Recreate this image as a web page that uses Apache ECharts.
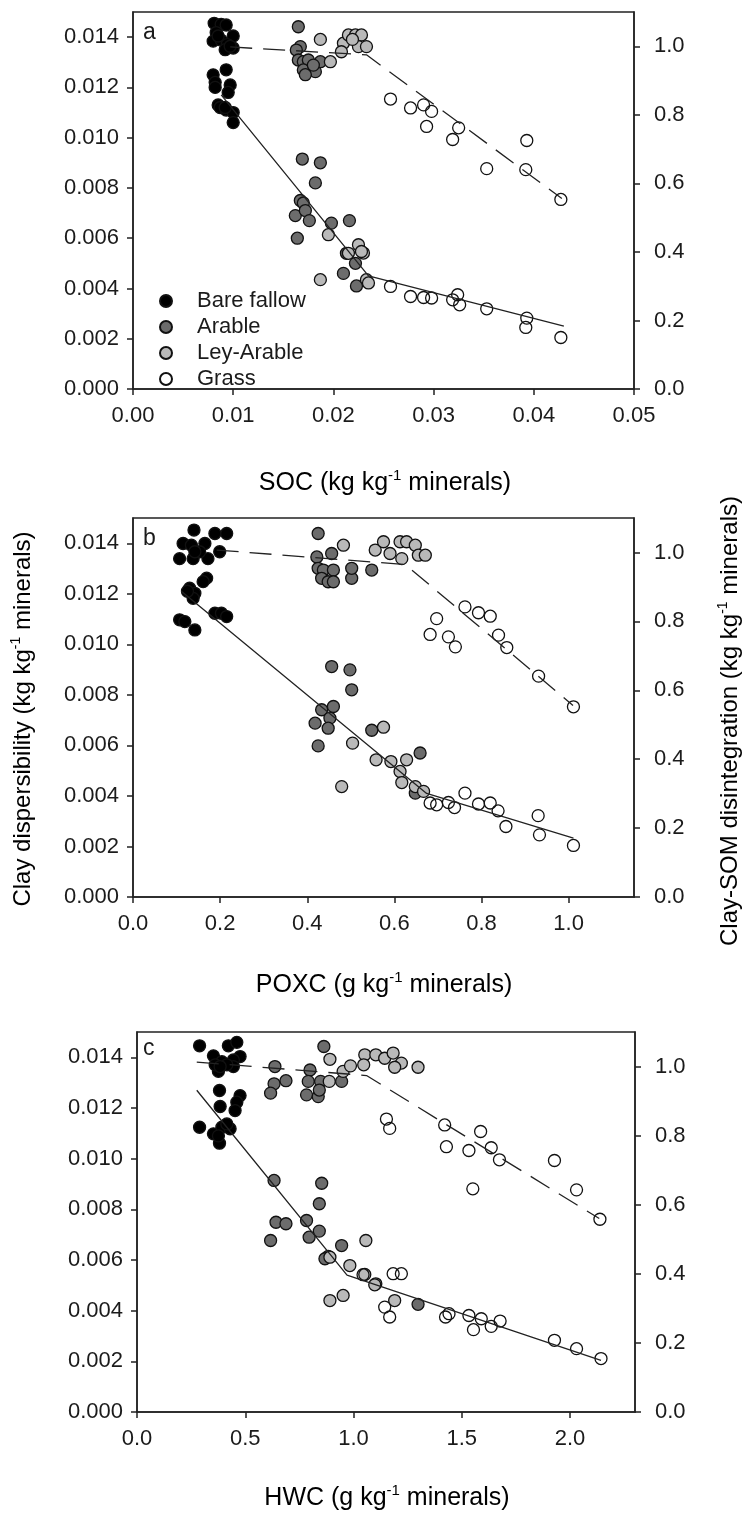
<!DOCTYPE html>
<html><head><meta charset="utf-8">
<script src="https://cdn.jsdelivr.net/npm/echarts@6/dist/echarts.min.js"></script>
<style>html,body{margin:0;padding:0;background:#fff}#c{width:745px;height:1517px}</style>
</head><body><div id="c"></div>
<script>
// ---------- categories ----------
const groups = ['Bare fallow', 'Arable', 'Ley-Arable', 'Grass'];

// ---------- tick labels ----------
const yLeftTicks = [0, 0.002, 0.004, 0.006, 0.008, 0.010, 0.012, 0.014];
const yRightTicks = [0, 0.2, 0.4, 0.6, 0.8, 1.0];
const xTicksA = [0, 0.01, 0.02, 0.03, 0.04, 0.05];
const xTicksB = [0, 0.2, 0.4, 0.6, 0.8, 1.0];
const xTicksC = [0, 0.5, 1.0, 1.5, 2.0];

// ---------- panel a: SOC ----------
const socBareDisp = [[0.0093,0.0127],[0.0080,0.0125],[0.0082,0.0122],[0.0097,0.0121],[0.0082,0.0120],[0.0095,0.0118],[0.0085,0.0113],[0.0087,0.0112],[0.0093,0.0111],[0.0100,0.0110],[0.0092,0.0112],[0.0100,0.0106]];
const socBareDisi = [[0.0081,1.067],[0.0088,1.064],[0.0093,1.062],[0.0083,1.040],[0.0100,1.030],[0.0080,1.015],[0.0088,1.018],[0.0094,1.005],[0.0100,0.995],[0.0092,0.990],[0.0097,1.000],[0.0085,1.030]];
const socArableDisp = [[0.0169,0.00915],[0.0187,0.0090],[0.0182,0.0082],[0.0167,0.0075],[0.0170,0.0074],[0.0162,0.0069],[0.0172,0.0071],[0.0176,0.0067],[0.0164,0.0060],[0.0198,0.0066],[0.0216,0.0067],[0.0210,0.0046],[0.0223,0.0041],[0.0213,0.0054],[0.0222,0.0050]];
const socArableDisi = [[0.0165,1.057],[0.0167,0.999],[0.0163,0.989],[0.0165,0.960],[0.0170,0.955],[0.0175,0.960],[0.0187,0.955],[0.0170,0.931],[0.0182,0.926],[0.0172,0.917],[0.0180,0.945]];
const socLeyDisp = [[0.0187,0.00435],[0.0195,0.00614],[0.0225,0.00574],[0.0230,0.00541],[0.0233,0.00435],[0.0215,0.0054],[0.0228,0.00547],[0.0235,0.00422]];
const socLeyDisi = [[0.0187,1.020],[0.0197,0.955],[0.0210,1.009],[0.0215,1.033],[0.0222,1.033],[0.0228,1.033],[0.0225,0.999],[0.0233,0.999],[0.0208,0.984],[0.0219,1.020]];
const socGrassDisp = [[0.0257,0.00408],[0.0277,0.00368],[0.0290,0.00364],[0.0298,0.00362],[0.0319,0.00355],[0.0324,0.00375],[0.0326,0.00335],[0.0353,0.00319],[0.0393,0.00282],[0.0392,0.00245],[0.0427,0.00205]];
const socGrassDisi = [[0.0257,0.846],[0.0277,0.820],[0.0290,0.829],[0.0298,0.810],[0.0293,0.766],[0.0325,0.762],[0.0319,0.728],[0.0393,0.725],[0.0353,0.643],[0.0392,0.640],[0.0427,0.553]];
const socDispFit = [[0.0088,0.0117],[0.0235,0.0045],[0.0430,0.0025]];
const socDisiFit = [[0.0097,0.998],[0.0233,0.975],[0.0428,0.556]];

// ---------- panel b: POXC ----------
const poxcBareDisp = [[0.169,0.01262],[0.161,0.01248],[0.130,0.01222],[0.142,0.01202],[0.138,0.01182],[0.107,0.01097],[0.119,0.0109],[0.142,0.01057],[0.188,0.01123],[0.203,0.01123],[0.215,0.0111],[0.125,0.0121]];
const poxcBareDisi = [[0.140,1.065],[0.188,1.055],[0.215,1.055],[0.115,1.026],[0.134,1.021],[0.165,1.026],[0.107,0.982],[0.138,0.982],[0.172,0.982],[0.199,1.002],[0.153,1.002],[0.142,1.002]];
const poxcArableDisp = [[0.456,0.00912],[0.498,0.00899],[0.502,0.0082],[0.460,0.00754],[0.433,0.00741],[0.452,0.00708],[0.418,0.00688],[0.448,0.00668],[0.425,0.00598],[0.548,0.0066],[0.659,0.0057],[0.648,0.00411]];
const poxcArableDisi = [[0.425,1.055],[0.422,0.987],[0.425,0.954],[0.437,0.949],[0.456,0.997],[0.460,0.949],[0.433,0.925],[0.448,0.915],[0.460,0.915],[0.502,0.925],[0.502,0.954],[0.548,0.949]];
const poxcLeyDisp = [[0.504,0.00609],[0.479,0.00437],[0.575,0.00672],[0.558,0.00543],[0.592,0.00536],[0.628,0.00543],[0.613,0.00497],[0.617,0.00453],[0.648,0.00437],[0.667,0.00418]];
const poxcLeyDisi = [[0.483,1.021],[0.556,1.007],[0.575,1.031],[0.590,0.997],[0.613,1.031],[0.628,1.031],[0.648,1.021],[0.655,0.992],[0.671,0.992],[0.617,0.982]];
const poxcGrassDisp = [[0.682,0.00372],[0.697,0.00365],[0.724,0.00374],[0.738,0.00354],[0.762,0.00411],[0.793,0.00368],[0.820,0.00372],[0.838,0.00341],[0.856,0.00279],[0.930,0.00322],[0.933,0.00246],[1.011,0.00204]];
const poxcGrassDisi = [[0.762,0.842],[0.793,0.825],[0.820,0.815],[0.697,0.808],[0.682,0.762],[0.724,0.755],[0.740,0.726],[0.839,0.760],[0.858,0.724],[0.931,0.641],[1.011,0.552]];
const poxcDispFit = [[0.111,0.0121],[0.674,0.0041],[1.011,0.00233]];
const poxcDisiFit = [[0.192,1.007],[0.625,0.965],[1.010,0.556]];

// ---------- panel c: HWC ----------
const hwcBareDisp = [[0.381,0.01269],[0.476,0.01249],[0.461,0.01223],[0.384,0.01206],[0.453,0.0119],[0.289,0.01124],[0.353,0.01098],[0.381,0.01061],[0.392,0.01124],[0.430,0.01118],[0.415,0.01137],[0.376,0.0109]];
const hwcBareDisi = [[0.289,1.060],[0.422,1.060],[0.461,1.070],[0.353,1.031],[0.392,1.014],[0.476,1.029],[0.445,1.019],[0.376,0.986],[0.445,1.000],[0.415,1.005],[0.361,1.005],[0.384,1.000]];
const hwcArableDisp = [[0.633,0.00914],[0.853,0.00903],[0.842,0.00822],[0.642,0.00749],[0.688,0.00743],[0.783,0.00756],[0.617,0.00677],[0.795,0.0069],[0.842,0.00714],[0.945,0.00657],[0.883,0.00614],[0.868,0.00605],[1.298,0.00425]];
const hwcArableDisi = [[0.863,1.058],[0.637,1.000],[0.799,0.990],[0.633,0.950],[0.688,0.959],[0.617,0.923],[0.791,0.957],[0.848,0.957],[0.783,0.918],[0.837,0.913],[0.842,0.932],[0.945,0.957]];
const hwcLeyDisp = [[1.057,0.00677],[0.891,0.00611],[0.983,0.00578],[1.052,0.00543],[1.103,0.00506],[0.891,0.0044],[0.952,0.0046],[1.098,0.00502],[1.190,0.0044]];
const hwcLeyDisi = [[0.891,1.021],[0.888,0.957],[0.952,0.986],[0.986,1.002],[1.052,1.034],[1.103,1.034],[1.144,1.024],[1.183,1.039],[1.221,1.010],[1.190,0.998],[1.298,0.998],[1.047,1.005]];
const hwcGrassDisp = [[1.044,0.00542],[1.183,0.00546],[1.221,0.00546],[1.144,0.00414],[1.167,0.00375],[1.425,0.00375],[1.441,0.00388],[1.533,0.00381],[1.554,0.00325],[1.590,0.00368],[1.636,0.00338],[1.677,0.00359],[1.928,0.00283],[2.030,0.0025],[2.143,0.00211]];
const hwcGrassDisi = [[1.152,0.848],[1.167,0.821],[1.421,0.831],[1.429,0.768],[1.533,0.757],[1.587,0.812],[1.636,0.765],[1.674,0.730],[1.551,0.646],[1.928,0.728],[2.030,0.643],[2.138,0.558]];
const hwcDispFit = [[0.276,0.0127],[0.970,0.0054],[2.143,0.00204]];
const hwcDisiFit = [[0.276,1.013],[1.060,0.974],[2.135,0.560]];

// ---------- styling ----------
const FONT = 'Liberation Sans, Arial, sans-serif';
const INK = '#1b1b1b';
const fills = {'Bare fallow': '#000000', 'Arable': '#6c6c6c', 'Ley-Arable': '#b9b9b9', 'Grass': 'rgba(255,255,255,0)'};

const panels = [
  {grid: {left: 133, top: 12, width: 501, height: 377}, xMax: 0.05, xTicks: xTicksA, xDec: 2,
   disp: [socBareDisp, socArableDisp, socLeyDisp, socGrassDisp], disi: [socBareDisi, socArableDisi, socLeyDisi, socGrassDisi],
   dispFit: socDispFit, disiFit: socDisiFit},
  {grid: {left: 133, top: 518, width: 501, height: 379}, xMax: 1.15, xTicks: xTicksB, xDec: 1,
   disp: [poxcBareDisp, poxcArableDisp, poxcLeyDisp, poxcGrassDisp], disi: [poxcBareDisi, poxcArableDisi, poxcLeyDisi, poxcGrassDisi],
   dispFit: poxcDispFit, disiFit: poxcDisiFit},
  {grid: {left: 137, top: 1032, width: 498, height: 380}, xMax: 2.3, xTicks: xTicksC, xDec: 1,
   disp: [hwcBareDisp, hwcArableDisp, hwcLeyDisp, hwcGrassDisp], disi: [hwcBareDisi, hwcArableDisi, hwcLeyDisi, hwcGrassDisi],
   dispFit: hwcDispFit, disiFit: hwcDisiFit}
];

const axisLine = {show: true, lineStyle: {color: '#222', width: 1.5}};
const axisTick = (vals) => ({show: true, inside: false, length: 6, lineStyle: {color: '#222', width: 1.5}, customValues: vals});
const labelStyle = {fontSize: 22, fontFamily: FONT, color: INK};

const grids = [], xAxes = [], yAxes = [], series = [];
panels.forEach((p, i) => {
  grids.push(Object.assign({show: true, borderColor: '#222', borderWidth: 1.5, backgroundColor: 'transparent'}, p.grid));
  xAxes.push({type: 'value', gridIndex: i, min: 0, max: p.xMax, position: 'bottom',
    axisLine, axisTick: axisTick(p.xTicks), splitLine: {show: false},
    axisLabel: Object.assign({margin: 16, customValues: p.xTicks, formatter: v => v.toFixed(p.xDec)}, labelStyle)});
  yAxes.push({type: 'value', gridIndex: i, min: 0, max: 0.015, position: 'left',
    axisLine, axisTick: axisTick(yLeftTicks), splitLine: {show: false},
    axisLabel: Object.assign({margin: 14, customValues: yLeftTicks, formatter: v => v.toFixed(3)}, labelStyle)});
  yAxes.push({type: 'value', gridIndex: i, min: 0, max: 1.1, position: 'right',
    axisLine, axisTick: axisTick(yRightTicks), splitLine: {show: false},
    axisLabel: Object.assign({margin: 20, customValues: yRightTicks, formatter: v => v.toFixed(1)}, labelStyle)});
  groups.forEach((g, k) => {
    const st = {color: fills[g], borderColor: '#111', borderWidth: 1.3, opacity: 1};
    series.push({type: 'scatter', name: g, xAxisIndex: i, yAxisIndex: 2 * i, data: p.disp[k], symbol: 'circle', symbolSize: 12, itemStyle: st, z: 2});
    series.push({type: 'scatter', name: g, xAxisIndex: i, yAxisIndex: 2 * i + 1, data: p.disi[k], symbol: 'circle', symbolSize: 12, itemStyle: st, z: 2});
  });
  series.push({type: 'line', name: 'fit-disp', xAxisIndex: i, yAxisIndex: 2 * i, data: p.dispFit, symbol: 'none', z: 4,
    lineStyle: {color: '#222', width: 1.3}});
  series.push({type: 'line', name: 'fit-disi', xAxisIndex: i, yAxisIndex: 2 * i + 1, data: p.disiFit, symbol: 'none', z: 4,
    lineStyle: {color: '#222', width: 1.3, type: [22, 11]}});
});

const richX = {
  a: {fontSize: 25, fontFamily: FONT, color: INK, lineHeight: 29},
  s: {fontSize: 15, fontFamily: FONT, color: INK, lineHeight: 15, verticalAlign: 'top'}
};
const richY = {
  a: {fontSize: 24, fontFamily: FONT, color: INK, lineHeight: 28},
  s: {fontSize: 14, fontFamily: FONT, color: INK, lineHeight: 14, verticalAlign: 'top'}
};
const title = (txt, x, y, rot, rich) => ({type: 'text', x, y, rotation: rot || 0, silent: true,
  style: {text: txt, rich, align: 'center', verticalAlign: 'middle'}});
const letter = (t, x, y) => ({type: 'text', x, y, silent: true,
  style: {text: t, fontSize: 23, fontFamily: FONT, fill: INK, align: 'left', verticalAlign: 'middle'}});

const chart = echarts.init(document.getElementById('c'), null, {renderer: 'canvas'});
chart.setOption({
  animation: false,
  backgroundColor: '#fff',
  grid: grids, xAxis: xAxes, yAxis: yAxes, series,
  legend: {data: groups, left: 154, top: 285, orient: 'vertical', icon: 'circle', itemWidth: 12, itemHeight: 12, itemGap: 4,
    selectedMode: false, textStyle: {fontSize: 22, fontFamily: FONT, color: INK, padding: [0, 0, 0, 20], lineHeight: 22}},
  graphic: [
    letter('a', 143, 33), letter('b', 143, 539), letter('c', 143, 1049),
    title('{a|SOC (kg kg}{s|-1}{a| minerals)}', 385, 483, 0, richX),
    title('{a|POXC (g kg}{s|-1}{a| minerals)}', 384, 985, 0, richX),
    title('{a|HWC (g kg}{s|-1}{a| minerals)}', 387, 1498, 0, richX),
    title('{a|Clay dispersibility (kg kg}{s|-1}{a| minerals)}', 23, 719, Math.PI / 2, richY),
    title('{a|Clay-SOM disintegration (kg kg}{s|-1}{a| minerals)}', 730, 721, Math.PI / 2, richY)
  ]
});
</script></body></html>
